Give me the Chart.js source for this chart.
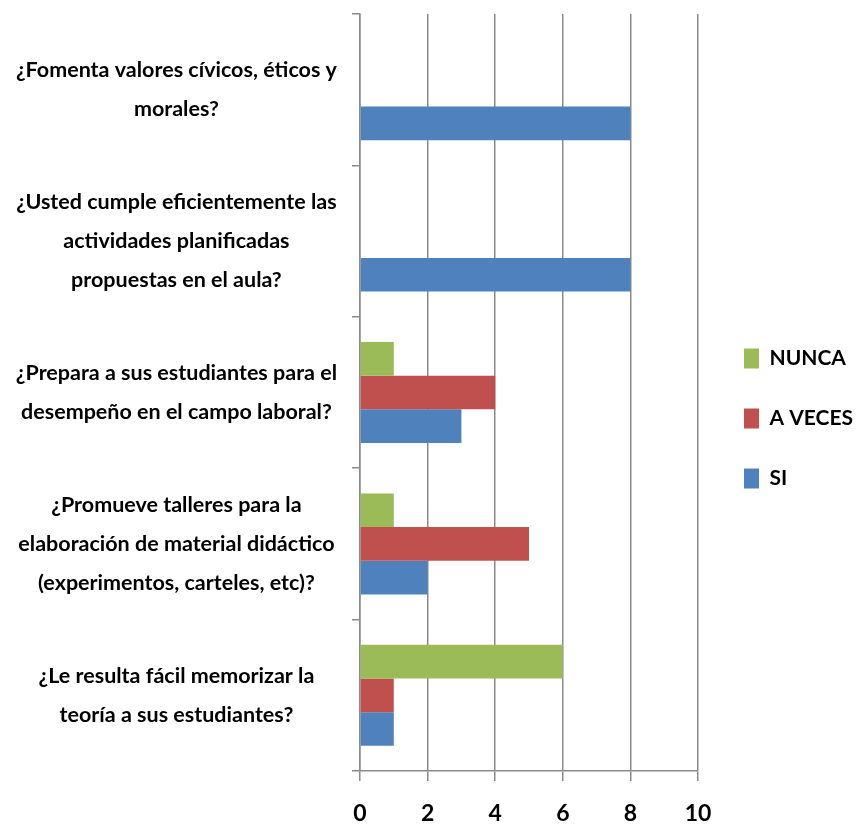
<!DOCTYPE html>
<html>
<head>
<meta charset="utf-8">
<script src="https://cdn.jsdelivr.net/npm/chart.js@4/dist/chart.umd.min.js"></script>
<style>
  html, body { margin: 0; padding: 0; background: #fff; }
  #wrap { width: 856px; height: 824px; }
</style>
</head>
<body>
<div id="wrap"><canvas id="grafico"></canvas></div>
<script>
const preguntas = [
    ['¿Fomenta valores cívicos, éticos y', 'morales?'],
    ['¿Usted cumple eficientemente las', 'actividades planificadas', 'propuestas en el aula?'],
    ['¿Prepara a sus estudiantes para el', 'desempeño en el campo laboral?'],
    ['¿Promueve talleres para la', 'elaboración de material didáctico', '(experimentos, carteles, etc)?'],
    ['¿Le resulta fácil memorizar la', 'teoría a sus estudiantes?']
];
const nunca = [0, 0, 1, 1, 6];
const aVeces = [0, 0, 4, 5, 1];
const si = [8, 8, 3, 2, 1];
const ejeMin = 0;
const ejeMax = 10;
const ejePaso = 2;

const gris = '#8a8a8a';
const fuente = 'Lato';

// corre la leyenda un poco a la derecha, como en el original
const moverLeyenda = {
    id: 'moverLeyenda',
    afterLayout(chart) {
        chart.legend.left += 7;
        chart.legend.right += 7;
    }
};

const ctx = document.getElementById('grafico').getContext('2d');
const grafico = new Chart(ctx, {
    type: 'bar',
    data: {
        labels: preguntas,
        datasets: [
            { label: 'NUNCA', data: nunca, backgroundColor: '#9bbb59' },
            { label: 'A VECES', data: aVeces, backgroundColor: '#c0504d' },
            { label: 'SI', data: si, backgroundColor: '#4f81bd' }
        ]
    },
    options: {
        indexAxis: 'y',
        responsive: true,
        maintainAspectRatio: false,
        animation: false,
        categoryPercentage: 0.667,
        barPercentage: 1,
        layout: { padding: { top: 14, right: 0, bottom: 1, left: 0 } },
        scales: {
            x: {
                min: ejeMin,
                max: ejeMax,
                afterFit: function (escala) { escala.height = 52; },
                ticks: {
                    stepSize: ejePaso,
                    color: '#000',
                    padding: 19,
                    font: { family: fuente, size: 23, weight: 'bold' }
                },
                grid: { color: gris, lineWidth: 1.5, tickLength: 10 },
                border: { color: gris, width: 1.5 }
            },
            y: {
                afterFit: function (escala) {
                    escala.width = 360;
                    escala.paddingTop = 0;
                    escala.paddingBottom = 0;
                },
                ticks: {
                    color: '#000',
                    crossAlign: 'center',
                    padding: 15,
                    autoSkip: false,
                    font: { family: fuente, size: 21.5, weight: 'bold', lineHeight: 1.8 }
                },
                grid: { offset: true, drawOnChartArea: false, color: gris, lineWidth: 1.5, tickLength: 8 },
                border: { color: gris, width: 1.5 }
            }
        },
        plugins: {
            legend: {
                position: 'right',
                maxWidth: 159,
                labels: {
                    color: '#000',
                    boxWidth: 15,
                    boxHeight: 20,
                    padding: 39,
                    font: { family: fuente, size: 21, weight: 'bold' }
                }
            },
            tooltip: { enabled: false }
        }
    },
    plugins: [moverLeyenda]
});
</script>
</body>
</html>
